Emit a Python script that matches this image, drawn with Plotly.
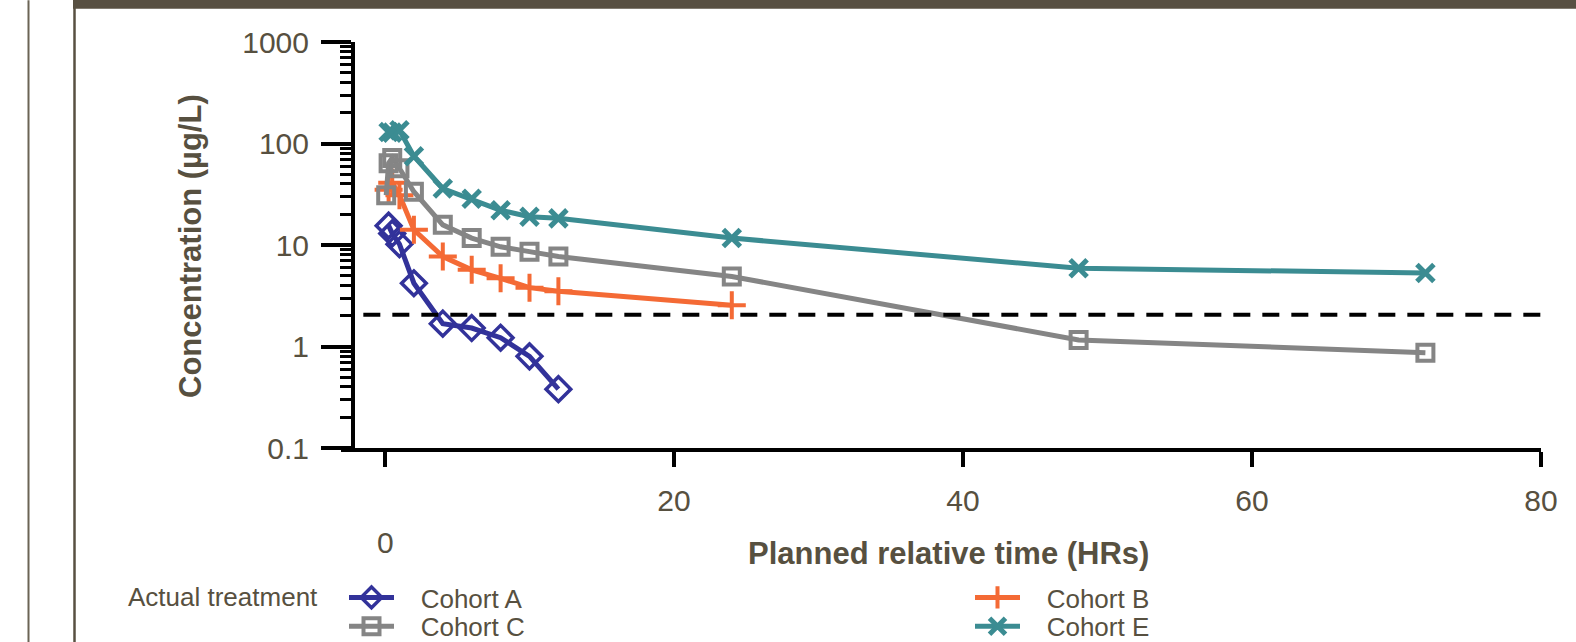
import plotly.graph_objects as go

# ---------------- data ----------------
time_A = [0.25, 0.5, 1, 2, 4, 6, 8, 10, 12]
conc_A = [15.5, 13.0, 10.2, 4.2, 1.68, 1.52, 1.22, 0.80, 0.38]

time_B = [0.25, 0.5, 1, 2, 4, 6, 8, 10, 12, 24]
conc_B = [35, 41, 31, 14.1, 7.7, 5.7, 4.7, 3.8, 3.5, 2.55]

time_C = [0.083, 0.25, 0.5, 1, 2, 4, 6, 8, 10, 12, 24, 48, 72]
conc_C = [31, 64, 72, 57, 33.5, 15.8, 11.7, 9.6, 8.6, 7.7, 4.9, 1.16, 0.87]

time_E = [0.25, 0.5, 1, 2, 4, 6, 8, 10, 12, 24, 48, 72]
conc_E = [130, 128, 135, 75, 36, 28.5, 22, 19, 18.3, 11.7, 5.9, 5.3]

lloq_value = 2.05
lloq_span = [-1.5, 80]

x_tickvals = [0, 20, 40, 60, 80]
x_ticktext = ["", "20", "40", "60", "80"]
y_tickvals = [0.1, 1, 10, 100, 1000]
y_ticktext = ["0.1", "1", "10", "100", "1000"]
y_minor = [m * 10 ** e for e in range(-1, 3) for m in range(2, 10)]

# ---------------- style ----------------
FONT = "Liberation Sans, Arial, sans-serif"
TXT = "#575040"
FRAME = "#585042"
W, H = 1576, 642
L, R, T, B = 341, 35, 41.7, 193.7
PW, PH = W - L - R, H - T - B


def px2x(px):
    return (px - L) / PW


def py2y(py):
    return (H - B - py) / PH


NB = "\u00a0\u00a0\u00a0"

fig = go.Figure()

series = [
    ("Cohort A", time_A, conc_A, "#32329a", "diamond-open", 19, 3.5, "legend", 566),
    ("Cohort B", time_B, conc_B, "#f46a35", "cross-thin-open", 20, 4, "legend", 130),
    ("Cohort C", time_C, conc_C, "#858585", "square-open", 16, 4, "legend2", 566),
    ("Cohort E", time_E, conc_E, "#3b8c92", "x-thin-open", 17, 5, "legend2", 130),
]
for name, t, c, col, sym, size, mlw, lg, lw in series:
    fig.add_trace(go.Scatter(
        x=t, y=c, name=NB + name, mode="lines+markers",
        line=dict(color=col, width=5),
        marker=dict(symbol=sym, size=size, color=col, line=dict(color=col, width=mlw)),
        legend=lg, legendwidth=lw,
    ))

# LLOQ dashed line
fig.add_trace(go.Scatter(
    x=lloq_span, y=[lloq_value, lloq_value], mode="lines",
    line=dict(color="black", width=4, dash="17px,12px"),
    showlegend=False, hoverinfo="skip",
))

legend_common = dict(
    orientation="h", xanchor="left", yanchor="middle",
    font=dict(size=26, color=TXT, family=FONT),
    bgcolor="rgba(0,0,0,0)", borderwidth=0, itemwidth=45,
)

fig.update_layout(
    width=W, height=H,
    margin=dict(l=L, r=R, t=T, b=B, autoexpand=False),
    paper_bgcolor="white", plot_bgcolor="white",
    font=dict(family=FONT, color=TXT),
    xaxis=dict(
        range=[-3.045, 80], showgrid=False, zeroline=False,
        showline=True, linewidth=4, linecolor="black",
        ticks="outside", ticklen=15, tickwidth=4, tickcolor="black",
        tickmode="array", tickvals=x_tickvals, ticktext=x_ticktext,
        tickfont=dict(size=30, color=TXT, family=FONT),
        ticklabelstandoff=8,
    ),
    yaxis=dict(
        type="log", range=[-1, 3], showgrid=False, zeroline=False,
        anchor="free", position=px2x(353),
        showline=True, linewidth=4, linecolor="black",
        ticks="outside", ticklen=30, tickwidth=4, tickcolor="black",
        tickmode="array", tickvals=y_tickvals, ticktext=y_ticktext,
        tickfont=dict(size=30, color=TXT, family=FONT),
        ticklabelstandoff=6,
        minor=dict(tickmode="array", tickvals=y_minor, ticks="outside",
                   ticklen=11, tickwidth=3, tickcolor="black", showgrid=False),
    ),
    legend=dict(x=px2x(344), y=py2y(598), **legend_common),
    legend2=dict(x=px2x(344), y=py2y(627), **legend_common),
)

fig.add_annotation(xref="paper", yref="paper", showarrow=False,
                   x=px2x(191), y=py2y(246), text="<b>Concentration (µg/L)</b>",
                   textangle=-90, xanchor="center", yanchor="middle",
                   font=dict(family=FONT, color=TXT, size=31))
fig.add_annotation(xref="paper", yref="paper", showarrow=False,
                   x=px2x(948), y=py2y(554), text="<b>Planned relative time (HRs)</b>",
                   xanchor="center", yanchor="middle",
                   font=dict(family=FONT, color=TXT, size=31))
fig.add_annotation(xref="x", yref="paper", showarrow=False,
                   x=0, y=py2y(543), text="0", xanchor="center", yanchor="middle",
                   font=dict(family=FONT, color=TXT, size=30))
fig.add_annotation(xref="paper", yref="paper", showarrow=False,
                   x=px2x(126), y=py2y(598), text="Actual treatment", xanchor="left", yanchor="middle",
                   font=dict(family=FONT, color=TXT, size=26))

# frame decoration
fig.add_shape(type="rect", xref="paper", yref="paper", x0=px2x(73), x1=px2x(1580),
              y0=py2y(8.3), y1=py2y(-5), fillcolor=FRAME, line=dict(width=0), layer="above")
fig.add_shape(type="line", xref="paper", yref="paper", x0=px2x(74.5), x1=px2x(74.5),
              y0=py2y(0), y1=py2y(650), line=dict(color=FRAME, width=2.5))
fig.add_shape(type="line", xref="paper", yref="paper", x0=px2x(28.5), x1=px2x(28.5),
              y0=py2y(0), y1=py2y(650), line=dict(color="#6b6455", width=2))

fig.write_html("out.html", config={"displayModeBar": False},
               post_script="document.body.style.margin='0px';document.body.style.overflow='hidden';")
